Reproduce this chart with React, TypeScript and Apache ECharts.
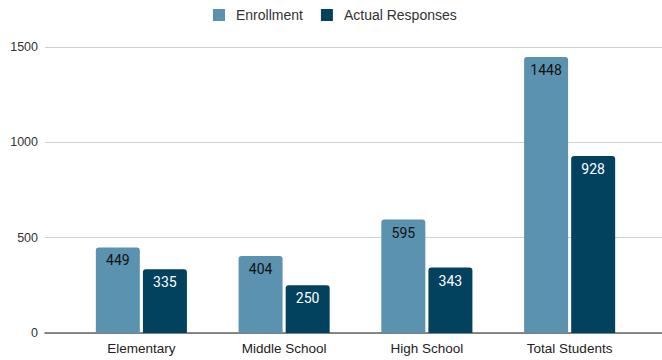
import React, { useEffect, useRef } from "react";
import * as echarts from "echarts";

const categories = ["Elementary", "Middle School", "High School", "Total Students"];
const enrollment = [449, 404, 595, 1448];
const actualResponses = [335, 250, 343, 928];
const yTicks = { min: 0, max: 1500, interval: 500 };

const LIGHT = "#5a92b0";
const DARK = "#02425f";
const SANS = "Liberation Sans, Arial, sans-serif";

export default function App() {
  const ref = useRef<HTMLDivElement>(null);

  useEffect(() => {
    if (!ref.current) return;
    const chart = echarts.init(ref.current, null, { renderer: "svg" });
    chart.setOption({
      animation: false,
      legend: {
        top: 8,
        left: 213,
        padding: 0,
        itemWidth: 12,
        itemHeight: 12,
        itemGap: 18,
        icon: "rect",
        data: ["Enrollment", "Actual Responses"],
        textStyle: {
          fontFamily: SANS,
          fontSize: 14,
          color: "#333",
          padding: [0, 0, 0, 6],
        },
      },
      grid: [
        // full-width background grid: gridlines, y labels and baseline
        { left: 45, right: 0, top: 47, bottom: 27, containLabel: false },
        // inner grid holding the bar groups
        { left: 70, right: 21, top: 47, bottom: 27, containLabel: false },
      ],
      xAxis: [
        {
          gridIndex: 0,
          type: "value",
          min: 0,
          max: 1,
          axisLabel: { show: false },
          axisTick: { show: false },
          splitLine: { show: false },
          axisLine: { show: true, lineStyle: { color: "#666", width: 1.5 } },
        },
        {
          gridIndex: 1,
          type: "category",
          data: categories,
          axisLine: { show: false },
          axisTick: { show: false },
          axisLabel: {
            margin: 8,
            fontFamily: SANS,
            fontSize: 13.5,
            color: "#222",
          },
        },
      ],
      yAxis: [
        {
          gridIndex: 0,
          type: "value",
          ...yTicks,
          axisLine: { show: false },
          axisTick: { show: false },
          axisLabel: {
            margin: 7,
            fontFamily: SANS,
            fontSize: 12.5,
            color: "#333",
            formatter: (v: number) => String(v),
          },
          splitLine: { show: true, lineStyle: { color: "#d0d0d0", width: 1 } },
        },
        {
          gridIndex: 1,
          type: "value",
          ...yTicks,
          axisLine: { show: false },
          axisTick: { show: false },
          axisLabel: { show: false },
          splitLine: { show: false },
        },
      ],
      series: [
        {
          name: "Enrollment",
          type: "bar",
          xAxisIndex: 1,
          yAxisIndex: 1,
          data: enrollment,
          barWidth: 44,
          barGap: "7%",
          itemStyle: { color: LIGHT, borderRadius: [3, 3, 0, 0] },
          label: {
            show: true,
            position: "insideTop",
            distance: 6,
            fontFamily: "Roboto, sans-serif",
            fontSize: 14,
            color: "#111",
          },
        },
        {
          name: "Actual Responses",
          type: "bar",
          xAxisIndex: 1,
          yAxisIndex: 1,
          data: actualResponses,
          barWidth: 44,
          itemStyle: { color: DARK, borderRadius: [3, 3, 0, 0] },
          label: {
            show: true,
            position: "insideTop",
            distance: 6,
            fontFamily: "Roboto, sans-serif",
            fontSize: 14,
            color: "#fff",
          },
        },
      ],
    });
    return () => chart.dispose();
  }, []);

  return <div ref={ref} style={{ width: 662, height: 360, position: "absolute", left: 0, top: 0 }} />;
}
